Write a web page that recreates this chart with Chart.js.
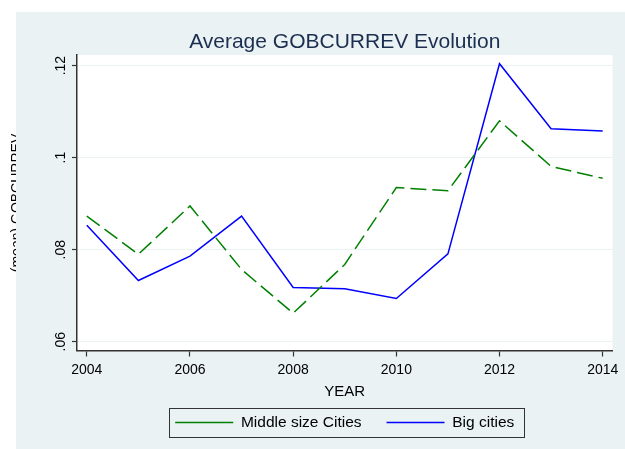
<!DOCTYPE html>
<html>
<head>
<meta charset="utf-8">
<script src="https://cdn.jsdelivr.net/npm/chart.js@4/dist/chart.umd.min.js"></script>
<style>
  html, body { margin: 0; padding: 0; background: #fff; overflow: hidden; }
  canvas { display: block; }
</style>
</head>
<body>
<canvas id="chart" width="625" height="449"></canvas>
<script>
// datos
const years = [2004, 2005, 2006, 2007, 2008, 2009, 2010, 2011, 2012, 2013, 2014];
const middleCities = [0.0873, 0.0790, 0.0895, 0.0757, 0.0662, 0.0768, 0.0935, 0.0928, 0.1080, 0.0981, 0.0955];
const bigCities = [0.0853, 0.0733, 0.0786, 0.0873, 0.0718, 0.0715, 0.0694, 0.0791, 0.1204, 0.1063, 0.1058];
const xTicks = [2004, 2006, 2008, 2010, 2012, 2014];
const yTicks = [0.06, 0.08, 0.1, 0.12];

const FONT = "'Liberation Sans', Arial, sans-serif";
const BG = "#EAF2F3";
Chart.defaults.font.family = FONT;

// fondo estilo Stata + título del eje Y recortado
const fondo = {
  id: "fondo",
  beforeDraw(chart) {
    const { ctx, chartArea: a } = chart;
    ctx.save();
    ctx.fillStyle = "#fff";
    ctx.fillRect(0, 0, chart.width, chart.height);
    ctx.translate(20, 203);
    ctx.rotate(-Math.PI / 2);
    ctx.font = "14px " + FONT;
    ctx.fillStyle = "#000";
    ctx.textAlign = "center";
    ctx.textBaseline = "top";
    ctx.fillText("(mean) GOBCURREV", 0, -10);
    ctx.restore();
    ctx.save();
    ctx.fillStyle = BG;
    ctx.fillRect(16, 12, chart.width - 16, chart.height - 12);
    ctx.fillStyle = "#fff";
    ctx.fillRect(a.left, a.top, a.right - a.left, a.bottom - a.top);
    ctx.restore();
  },
  afterDraw(chart) {
    // marco de la leyenda
    const hb = chart.legend.legendHitBoxes;
    if (!hb || !hb.length) return;
    const first = hb[0], last = hb[hb.length - 1];
    const cy = first.top + first.height / 2;
    const x0 = Math.round(first.left - 6) + 0.5;
    const x1 = Math.round(last.left + last.width + 10) + 0.5;
    const y0 = Math.round(cy - 14.5) + 0.5;
    const { ctx } = chart;
    ctx.save();
    ctx.strokeStyle = "#333";
    ctx.lineWidth = 1;
    ctx.strokeRect(x0, y0, x1 - x0, 29);
    ctx.restore();
  }
};

const ctx = document.getElementById("chart").getContext("2d");
new Chart(ctx, {
  type: "line",
  data: {
    datasets: [
      {
        label: "Middle size Cities",
        data: years.map((y, i) => ({ x: y, y: middleCities[i] })),
        borderColor: "#008000",
        backgroundColor: "#008000",
        borderWidth: 1.5,
        borderDash: [16, 6],
        pointRadius: 0,
        tension: 0
      },
      {
        label: "Big cities",
        data: years.map((y, i) => ({ x: y, y: bigCities[i] })),
        borderColor: "#0000FF",
        backgroundColor: "#0000FF",
        borderWidth: 1.5,
        pointRadius: 0,
        tension: 0
      }
    ]
  },
  options: {
    responsive: false,
    animation: false,
    layout: { padding: { left: 0, right: 11, top: 0, bottom: 8.75 } },
    plugins: {
      title: {
        display: true,
        text: "Average GOBCURREV Evolution",
        fullSize: false,
        color: "#1C2E50",
        font: { size: 21, weight: "normal" },
        padding: { top: 29.4, bottom: 0.4 }
      },
      legend: {
        position: "bottom",
        fullSize: false,
        labels: {
          usePointStyle: true,
          pointStyle: "line",
          pointStyleWidth: 58,
          padding: 25,
          color: "#000",
          font: { size: 15.5 }
        }
      },
      tooltip: { enabled: false }
    },
    scales: {
      x: {
        type: "linear",
        min: 2003.81,
        max: 2014.19,
        afterBuildTicks: (s) => { s.ticks = xTicks.map(v => ({ value: v })); },
        ticks: {
          autoSkip: false,
          maxRotation: 0,
          padding: 6.5,
          color: "#000",
          font: { size: 14, lineHeight: 1 },
          callback: (v) => String(v)
        },
        grid: { drawOnChartArea: false, drawTicks: true, tickLength: 6, tickColor: "#333", tickWidth: 1.2 },
        border: { display: true, color: "#333", width: 1.5 },
        title: {
          display: true,
          text: "YEAR",
          color: "#000",
          font: { size: 15, lineHeight: 1 },
          padding: { top: 0.5, bottom: -9.25 }
        }
      },
      y: {
        min: 0.0581,
        max: 0.1223,
        afterBuildTicks: (s) => { s.ticks = yTicks.map(v => ({ value: v })); },
        afterFit: (s) => { s.width = 77; },
        ticks: {
          autoSkip: false,
          minRotation: 90,
          maxRotation: 90,
          crossAlign: "center",
          padding: 1,
          color: "#000",
          font: { size: 14 },
          callback: (v) => String(v).replace(/^0\./, ".")
        },
        grid: { color: BG, lineWidth: 1, drawTicks: true, tickLength: 5, tickColor: "#333", tickWidth: 1.2 },
        border: { display: true, color: "#333", width: 1.5 }
      }
    }
  },
  plugins: [fondo]
});
</script>
</body>
</html>
